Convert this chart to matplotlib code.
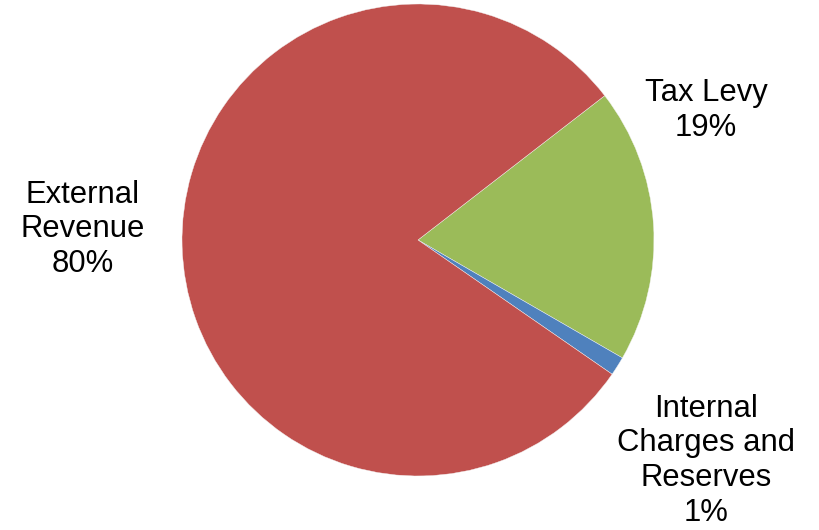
import numpy as np
import matplotlib
matplotlib.use("Agg")
from matplotlib import pyplot as plt

plt.rcParams['font.family'] = ['Liberation Sans', 'DejaVu Sans']

# data (clockwise from the first slice)
labels = ['Tax Levy', 'Internal\nCharges and\nReserves', 'External\nRevenue']
shares = [18.8, 1.3, 79.9]
colors = ['#9BBB59', '#4F81BD', '#C0504D']

# label centres in pie units (radius = 1)
label_pos = [(1.22, 0.55), (1.22, -0.935), (-1.42, 0.045)]

fig = plt.figure(figsize=(8.19, 5.30), dpi=100)
ax = fig.add_axes([0, 0, 1, 1])

ax.pie(shares, colors=colors, startangle=37.7, counterclock=False,
       radius=1.0, wedgeprops=dict(edgecolor='#f4f4f4', linewidth=0.3))

for lab, val, (x, y) in zip(labels, shares, label_pos):
    ax.text(x, y, lab + '\n' + '%d%%' % round(val), ha='center', va='center',
            fontsize=22.3, linespacing=1.2, color='black')

ax.set_xlim(-1.771, 1.699)
ax.set_ylim(-1.229, 1.017)
ax.set_aspect('equal')
ax.axis('off')

fig.savefig('out.png', dpi=100)
